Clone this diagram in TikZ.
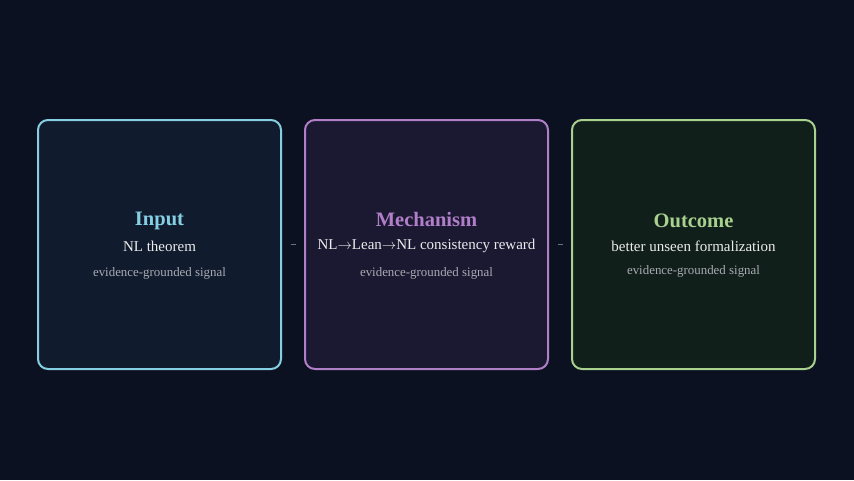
\documentclass[tikz,border=0pt]{standalone}
\usepackage{fontspec}
\setmainfont{Liberation Serif}
\usetikzlibrary{positioning}

\definecolor{bgdark}{HTML}{0B1120}
\definecolor{infill}{HTML}{101B2E}
\definecolor{inline}{HTML}{86CFE2}
\definecolor{mechfill}{HTML}{1B1832}
\definecolor{mechline}{HTML}{B07FC8}
\definecolor{outfill}{HTML}{111F1B}
\definecolor{outline}{HTML}{A8D18E}
\definecolor{subtext}{HTML}{ECECEC}
\definecolor{notetext}{HTML}{A9ACB2}
\definecolor{linkgray}{HTML}{6B7280}

\tikzset{
  stage/.style={draw, rounded corners=10pt, line width=2pt,
    minimum width=243pt, minimum height=249pt, inner sep=0pt},
  title/.style={font=\bfseries\fontsize{20.5}{23}\selectfont},
  sub/.style={text=subtext, font=\fontsize{15}{18}\selectfont},
  note/.style={text=notetext, font=\fontsize{12.9}{15}\selectfont},
  link/.style={draw=linkgray, line width=1pt, shorten >=8.5pt, shorten <=8.5pt}
}

\begin{document}
\begin{tikzpicture}[x=1pt, y=1pt]
    \fill[bgdark] (0,0) rectangle (854,-480);
    \useasboundingbox (0,0) rectangle (854,-480);

    % the three stages
    \node (in) [stage, fill=infill, draw=inline] at (159.5,-244.5) {};
    \node (mech) [stage, fill=mechfill, draw=mechline, right = 22pt of in] {};
    \node (out) [stage, fill=outfill, draw=outline, right = 22pt of mech] {};

    \node (intitle) [title, text=inline] at ([yshift=23.5pt]in.center) {Input};
    \node (insub) [sub] at ([yshift=-2pt]in.center) {NL theorem};
    \node (innote) [note] at ([yshift=-29pt]in.center) {evidence-grounded signal};

    \node (mechtitle) [title, text=mechline] at ([yshift=25.5pt]mech.center) {Mechanism};
    \node (mechsub) [sub] at ([yshift=-1pt]mech.center) {NL$\rightarrow$Lean$\rightarrow$NL consistency reward};
    \node (mechnote) [note] at ([yshift=-29pt]mech.center) {evidence-grounded signal};

    \node (outtitle) [title, text=outline] at ([yshift=24pt]out.center) {Outcome};
    \node (outsub) [sub] at ([yshift=-2pt]out.center) {better unseen formalization};
    \node (outnote) [note] at ([yshift=-27pt]out.center) {evidence-grounded signal};

    \draw[link] (in) -- (mech);
    \draw[link] (mech) -- (out);

  \end{tikzpicture}
\end{document}
